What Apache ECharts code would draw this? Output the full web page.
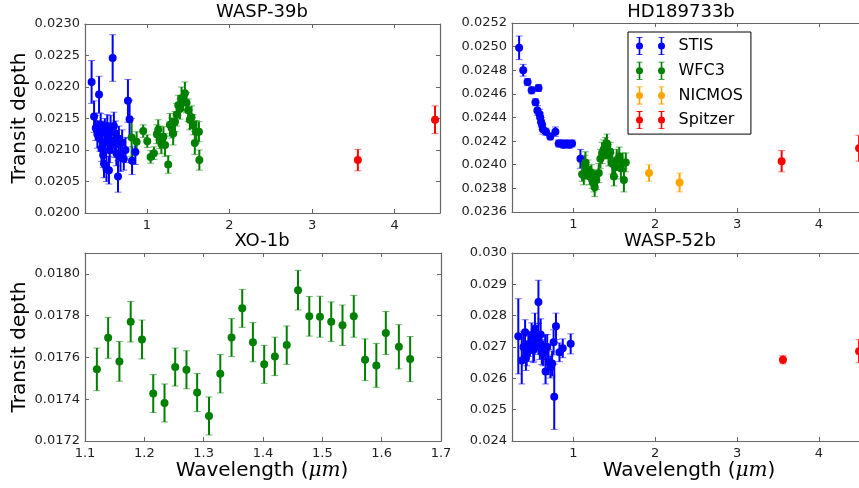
<!DOCTYPE html>
<html>
<head>
<meta charset="utf-8">
<script src="https://cdn.jsdelivr.net/npm/echarts@6/dist/echarts.min.js"></script>
<style>
  html, body { margin: 0; padding: 0; background: #fff; overflow: hidden; }
  #chart { width: 866px; height: 488px; }
</style>
</head>
<body>
<div id="chart"></div>
<script>
// ---------- WASP-39b ----------
const wasp39StisWl = [0.33, 0.36, 0.38, 0.40, 0.42, 0.43, 0.44, 0.45, 0.46, 0.47, 0.48, 0.49, 0.50, 0.51, 0.52, 0.53, 0.54, 0.55, 0.56, 0.57, 0.585, 0.60, 0.61, 0.62, 0.63, 0.65, 0.66, 0.68, 0.70, 0.72, 0.74, 0.77, 0.79, 0.82, 0.86];
const wasp39StisDepth = [0.02208, 0.02153, 0.02135, 0.02125, 0.02188, 0.02118, 0.02140, 0.02102, 0.02128, 0.02092, 0.02078, 0.02132, 0.02112, 0.02070, 0.02138, 0.02120, 0.02068, 0.02100, 0.02130, 0.02115, 0.02246, 0.02138, 0.02108, 0.02126, 0.02095, 0.02058, 0.02118, 0.02088, 0.02112, 0.02086, 0.02100, 0.02178, 0.02149, 0.02083, 0.02097];
const wasp39StisErr = [0.00034, 0.00025, 0.00020, 0.00022, 0.00029, 0.00020, 0.00018, 0.00020, 0.00018, 0.00020, 0.00022, 0.00018, 0.00018, 0.00020, 0.00018, 0.00020, 0.00022, 0.00020, 0.00025, 0.00020, 0.00037, 0.00022, 0.00020, 0.00020, 0.00020, 0.00025, 0.00020, 0.00022, 0.00020, 0.00018, 0.00020, 0.00034, 0.00030, 0.00022, 0.00020];

const wasp39Wfc3Wl = [0.815, 0.875, 0.955, 1.004, 1.045, 1.085, 1.12, 1.137, 1.155, 1.175, 1.20, 1.22, 1.258, 1.278, 1.30, 1.318, 1.34, 1.36, 1.38, 1.40, 1.42, 1.44, 1.46, 1.48, 1.50, 1.52, 1.54, 1.56, 1.58, 1.60, 1.63, 1.635];
const wasp39Wfc3Depth = [0.02120, 0.02113, 0.02130, 0.02114, 0.02089, 0.02095, 0.02125, 0.02132, 0.02120, 0.02110, 0.02121, 0.02108, 0.02077, 0.02140, 0.02135, 0.02126, 0.02145, 0.02156, 0.02171, 0.02165, 0.02182, 0.02178, 0.02190, 0.02175, 0.02163, 0.02148, 0.02152, 0.02140, 0.02111, 0.02129, 0.02129, 0.02084];
const wasp39Wfc3Err = [0.00030, 0.00016, 0.00010, 0.00010, 0.00010, 0.00010, 0.00015, 0.00016, 0.00018, 0.00016, 0.00016, 0.00018, 0.00014, 0.00018, 0.00016, 0.00018, 0.00016, 0.00018, 0.00016, 0.00016, 0.00018, 0.00016, 0.00018, 0.00016, 0.00018, 0.00016, 0.00018, 0.00016, 0.00018, 0.00018, 0.00016, 0.00016];

const wasp39SpitzerWl = [3.555, 4.49];
const wasp39SpitzerDepth = [0.02084, 0.02148];
const wasp39SpitzerErr = [0.00017, 0.00022];

// ---------- HD189733b ----------
const hd189StisWl = [0.337, 0.387, 0.44, 0.49, 0.537, 0.56, 0.574, 0.585, 0.595, 0.606, 0.616, 0.628, 0.665, 0.718, 0.78, 0.82, 0.86, 0.88, 0.92, 0.95, 0.984, 1.086];
const hd189StisDepth = [0.02499, 0.02480, 0.02470, 0.02463, 0.02453, 0.02446, 0.02465, 0.02443, 0.02440, 0.02436, 0.02434, 0.02430, 0.02428, 0.02424, 0.02428, 0.02418, 0.02418, 0.02417, 0.02418, 0.02417, 0.02418, 0.02405];
const hd189StisErr = [0.00010, 0.00005, 0.00003, 0.00003, 0.00003, 0.00004, 0.00003, 0.00004, 0.00004, 0.00004, 0.00004, 0.00004, 0.00003, 0.00003, 0.00004, 0.00003, 0.00003, 0.00003, 0.00003, 0.00003, 0.00003, 0.00008];

const hd189Wfc3Wl = [1.107, 1.127, 1.14, 1.147, 1.16, 1.18, 1.20, 1.22, 1.23, 1.25, 1.26, 1.28, 1.31, 1.33, 1.35, 1.37, 1.39, 1.41, 1.43, 1.45, 1.475, 1.495, 1.51, 1.53, 1.56, 1.58, 1.60, 1.617, 1.64];
const hd189Wfc3Depth = [0.02392, 0.02391, 0.02400, 0.02402, 0.02395, 0.02396, 0.02390, 0.02393, 0.02388, 0.02384, 0.02381, 0.02387, 0.02393, 0.02405, 0.02410, 0.02413, 0.02414, 0.02418, 0.02408, 0.02411, 0.02401, 0.02390, 0.02398, 0.02404, 0.02407, 0.02397, 0.02402, 0.02387, 0.02402];
const hd189Wfc3Err = [0.00006, 0.00008, 0.00008, 0.00009, 0.00007, 0.00008, 0.00007, 0.00007, 0.00008, 0.00007, 0.00008, 0.00008, 0.00008, 0.00008, 0.00009, 0.00008, 0.00009, 0.00008, 0.00009, 0.00008, 0.00009, 0.00008, 0.00008, 0.00009, 0.00008, 0.00009, 0.00008, 0.00010, 0.00008];

const hd189NicmosWl = [1.924, 2.297];
const hd189NicmosDepth = [0.02393, 0.02385];
const hd189NicmosErr = [0.00007, 0.00008];

const hd189SpitzerWl = [3.544, 4.49];
const hd189SpitzerDepth = [0.02403, 0.02414];
const hd189SpitzerErr = [0.00009, 0.00011];

// ---------- XO-1b ----------
const xo1Wfc3Wl = [1.120, 1.139, 1.158, 1.177, 1.196, 1.215, 1.234, 1.252, 1.271, 1.289, 1.309, 1.328, 1.347, 1.365, 1.383, 1.402, 1.420, 1.440, 1.459, 1.478, 1.496, 1.515, 1.534, 1.553, 1.572, 1.591, 1.607, 1.629, 1.648];
const xo1Wfc3Depth = [0.017543, 0.017694, 0.017581, 0.017771, 0.017686, 0.017427, 0.017382, 0.017554, 0.017541, 0.017432, 0.017320, 0.017522, 0.017695, 0.017835, 0.017673, 0.017567, 0.017605, 0.017659, 0.017922, 0.017797, 0.017795, 0.017771, 0.017754, 0.017797, 0.017589, 0.017562, 0.017717, 0.017651, 0.017592];
const xo1Wfc3Err = [0.000102, 0.000098, 0.000095, 0.000097, 0.000093, 0.000091, 0.000091, 0.000091, 0.000091, 0.000091, 0.000091, 0.000092, 0.000091, 0.000091, 0.000094, 0.000091, 0.000092, 0.000092, 0.000095, 0.000095, 0.000098, 0.000095, 0.000097, 0.000100, 0.000100, 0.000105, 0.000103, 0.000106, 0.000108];

// ---------- WASP-52b ----------
const wasp52StisWl = [0.327, 0.369, 0.39, 0.41, 0.42, 0.43, 0.45, 0.47, 0.49, 0.51, 0.52, 0.53, 0.55, 0.573, 0.573, 0.59, 0.60, 0.614, 0.63, 0.655, 0.66, 0.68, 0.696, 0.72, 0.74, 0.758, 0.766, 0.787, 0.83, 0.87, 0.967];
const wasp52StisDepth = [0.02734, 0.02657, 0.02700, 0.02747, 0.02665, 0.02680, 0.02694, 0.02710, 0.02737, 0.02690, 0.02705, 0.02758, 0.02730, 0.02844, 0.02726, 0.02700, 0.02740, 0.02684, 0.02680, 0.02699, 0.02622, 0.02700, 0.02652, 0.02636, 0.02647, 0.02715, 0.02541, 0.02766, 0.02683, 0.02696, 0.02710];
const wasp52StisErr = [0.00120, 0.00075, 0.00050, 0.00040, 0.00040, 0.00040, 0.00040, 0.00040, 0.00040, 0.00040, 0.00050, 0.00050, 0.00040, 0.00069, 0.00050, 0.00040, 0.00050, 0.00040, 0.00040, 0.00040, 0.00040, 0.00040, 0.00040, 0.00035, 0.00040, 0.00040, 0.00104, 0.00042, 0.00030, 0.00030, 0.00032];

const wasp52SpitzerWl = [3.56, 4.49];
const wasp52SpitzerDepth = [0.026593, 0.026867];
const wasp52SpitzerErr = [0.00013, 0.00037];

// ---------- axis ticks ----------
const wlTicksWide = [1, 2, 3, 4];
const wlTicksXo1 = [1.1, 1.2, 1.3, 1.4, 1.5, 1.6, 1.7];
const depthTicksWasp39 = [0.0200, 0.0205, 0.0210, 0.0215, 0.0220, 0.0225, 0.0230];
const depthTicksHd189 = [0.0236, 0.0238, 0.0240, 0.0242, 0.0244, 0.0246, 0.0248, 0.0250, 0.0252];
const depthTicksXo1 = [0.0172, 0.0174, 0.0176, 0.0178, 0.0180];
const depthTicksWasp52 = [0.024, 0.025, 0.026, 0.027, 0.028, 0.029, 0.030];

const FONT = 'DejaVu Sans';
const FRAME = '#666';
const COLORS = { STIS: '#0000ff', WFC3: '#008000', NICMOS: '#ffa500', Spitzer: '#ff0000' };

const panels = [
  { grid: { left: 85, top: 24, width: 355, height: 189 }, xmin: 0.25, xmax: 4.55, xticks: wlTicksWide, xdec: 0,
    ymin: 0.0200, ymax: 0.0230, yticks: depthTicksWasp39, ydec: 4 },
  { grid: { left: 512, top: 23, width: 352, height: 189 }, xmin: 0.25, xmax: 4.55, xticks: wlTicksWide, xdec: 0,
    ymin: 0.0236, ymax: 0.0252, yticks: depthTicksHd189, ydec: 4 },
  { grid: { left: 85, top: 253, width: 356, height: 188 }, xmin: 1.1, xmax: 1.7, xticks: wlTicksXo1, xdec: 1,
    ymin: 0.0172, ymax: 0.0181, yticks: depthTicksXo1, ydec: 4 },
  { grid: { left: 512, top: 253, width: 352, height: 188 }, xmin: 0.25, xmax: 4.55, xticks: wlTicksWide, xdec: 0,
    ymin: 0.024, ymax: 0.030, yticks: depthTicksWasp52, ydec: 3 }
];

const xAxis = [], yAxis = [];
panels.forEach((p, i) => {
  const line = { show: true, onZero: false, lineStyle: { color: FRAME, width: 1.2 } };
  const xTick = { show: true, inside: true, length: 4, customValues: p.xticks, lineStyle: { color: FRAME } };
  const yTick = { show: true, inside: true, length: 4, customValues: p.yticks, lineStyle: { color: FRAME } };
  const xBase = { type: 'value', gridIndex: i, min: p.xmin, max: p.xmax, splitLine: { show: false }, axisLine: line, axisTick: xTick };
  const yBase = { type: 'value', gridIndex: i, min: p.ymin, max: p.ymax, splitLine: { show: false }, axisLine: line, axisTick: yTick };
  xAxis.push(Object.assign({}, xBase, { position: 'bottom',
    axisLabel: { customValues: p.xticks, formatter: v => v.toFixed(p.xdec), fontFamily: FONT, fontSize: 13, color: '#222', margin: 6 } }));
  xAxis.push(Object.assign({}, xBase, { position: 'top', axisLabel: { show: false } }));
  yAxis.push(Object.assign({}, yBase, { position: 'left',
    axisLabel: { customValues: p.yticks, formatter: v => v.toFixed(p.ydec), fontFamily: FONT, fontSize: 13, color: '#222', margin: 5 } }));
  yAxis.push(Object.assign({}, yBase, { position: 'right', axisLabel: { show: false } }));
});

// Vertical error bars with small caps, drawn through the axis scales
function errorBars(name, panel, wl, depth, err) {
  const color = COLORS[name];
  return {
    type: 'custom', name, xAxisIndex: 2 * panel, yAxisIndex: 2 * panel, silent: true,
    itemStyle: { color },
    data: wl.map((x, k) => [x, depth[k], err[k]]),
    encode: { x: 0, y: 1 },
    renderItem: (params, api) => {
      const x = api.value(0), y = api.value(1), e = api.value(2);
      const hi = api.coord([x, y + e]);
      const lo = api.coord([x, y - e]);
      const cap = 3.5;
      return {
        type: 'group',
        children: [
          { type: 'line', shape: { x1: hi[0], y1: hi[1], x2: lo[0], y2: lo[1] }, style: { stroke: color, lineWidth: 2 } },
          { type: 'line', shape: { x1: hi[0] - cap, y1: hi[1], x2: hi[0] + cap, y2: hi[1] }, style: { stroke: color, lineWidth: 1, opacity: 0.55 } },
          { type: 'line', shape: { x1: lo[0] - cap, y1: lo[1], x2: lo[0] + cap, y2: lo[1] }, style: { stroke: color, lineWidth: 1, opacity: 0.55 } }
        ]
      };
    }
  };
}

function points(name, panel, wl, depth) {
  return {
    type: 'scatter', name, xAxisIndex: 2 * panel, yAxisIndex: 2 * panel, silent: true,
    symbol: 'circle', symbolSize: 8,
    itemStyle: { color: COLORS[name], opacity: 1 },
    emphasis: { disabled: true },
    data: wl.map((x, k) => [x, depth[k]])
  };
}

function instrument(name, panel, wl, depth, err) {
  return [errorBars(name, panel, wl, depth, err), points(name, panel, wl, depth)];
}

const series = [].concat(
  instrument('STIS', 0, wasp39StisWl, wasp39StisDepth, wasp39StisErr),
  instrument('WFC3', 0, wasp39Wfc3Wl, wasp39Wfc3Depth, wasp39Wfc3Err),
  instrument('Spitzer', 0, wasp39SpitzerWl, wasp39SpitzerDepth, wasp39SpitzerErr),
  instrument('STIS', 1, hd189StisWl, hd189StisDepth, hd189StisErr),
  instrument('WFC3', 1, hd189Wfc3Wl, hd189Wfc3Depth, hd189Wfc3Err),
  instrument('NICMOS', 1, hd189NicmosWl, hd189NicmosDepth, hd189NicmosErr),
  instrument('Spitzer', 1, hd189SpitzerWl, hd189SpitzerDepth, hd189SpitzerErr),
  instrument('WFC3', 2, xo1Wfc3Wl, xo1Wfc3Depth, xo1Wfc3Err),
  instrument('STIS', 3, wasp52StisWl, wasp52StisDepth, wasp52StisErr),
  instrument('Spitzer', 3, wasp52SpitzerWl, wasp52SpitzerDepth, wasp52SpitzerErr)
);

// Legend glyph: two markers, each with an error bar and caps
const legendIcon = 'path://' +
  'M0.5,9a3.5,3.5 0 1,1 7,0a3.5,3.5 0 1,1 -7,0Z M3.2,0h1.6v18h-1.6Z M1,0h6v0.8h-6Z M1,17.2h6v0.8h-6Z ' +
  'M22.5,9a3.5,3.5 0 1,1 7,0a3.5,3.5 0 1,1 -7,0Z M25.2,0h1.6v18h-1.6Z M23,0h6v0.8h-6Z M23,17.2h6v0.8h-6Z';

function label(text, x, y, size, rot) {
  return {
    type: 'text', x, y, rotation: rot || 0, silent: true,
    style: {
      text, fontFamily: FONT, fontSize: size, fill: '#000', align: 'center', verticalAlign: 'middle',
      rich: { m: { fontFamily: 'DejaVu Serif', fontStyle: 'italic', fontSize: size } }
    }
  };
}

const chart = echarts.init(document.getElementById('chart'), null, { renderer: 'canvas' });
chart.setOption({
  animation: false,
  backgroundColor: '#fff',
  grid: panels.map(p => Object.assign({ containLabel: false }, p.grid)),
  xAxis, yAxis, series,
  legend: {
    left: 628, top: 32, orient: 'vertical', selectedMode: false,
    data: ['STIS', 'WFC3', 'NICMOS', 'Spitzer'],
    icon: legendIcon, itemWidth: 30, itemHeight: 18, itemGap: 6.7,
    padding: [5, 8, 5, 8],
    borderColor: '#000', borderWidth: 1, backgroundColor: '#fff',
    textStyle: { fontFamily: FONT, fontSize: 16, color: '#000', padding: [0, 0, 0, 8] }
  },
  graphic: [
    label('WASP-39b', 262, 12, 18),
    label('HD189733b', 681, 12, 18),
    label('XO-1b', 262, 241, 18),
    label('WASP-52b', 670, 241, 18),
    label('Transit depth', 20, 118, 20, Math.PI / 2),
    label('Transit depth', 20, 347, 20, Math.PI / 2),
    label('Wavelength ({m|μm})', 262, 471, 20),
    label('Wavelength ({m|μm})', 689, 471, 20)
  ]
});
</script>
</body>
</html>
